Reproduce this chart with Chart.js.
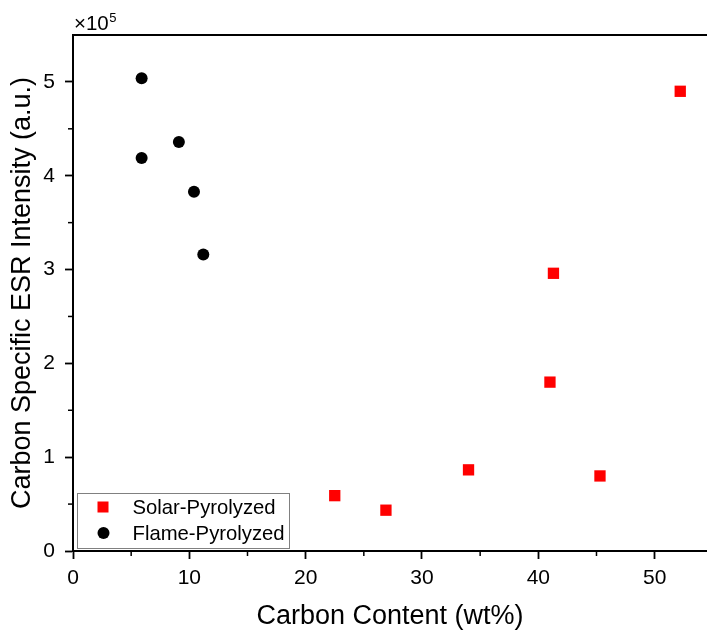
<!DOCTYPE html>
<html>
<head>
<meta charset="utf-8">
<script src="https://cdn.jsdelivr.net/npm/chart.js@4.4.1/dist/chart.umd.min.js"></script>
<style>
  html, body { margin: 0; padding: 0; background: #fff; overflow: hidden; }
  #wrap { width: 707px; height: 633px; }
  canvas { display: block; }
</style>
</head>
<body>
<div id="wrap"><canvas id="esrChart"></canvas></div>
<script>
// Carbon content (wt%) and ESR intensity (a.u.)
const solarCarbon = [22.5, 26.9, 34.0, 41.0, 41.3, 45.3, 52.2];
const solarEsr = [59000, 43500, 86500, 180000, 296000, 80000, 490000];
const flameCarbon = [5.9, 5.9, 9.1, 10.4, 11.2];
const flameEsr = [504000, 419000, 436000, 383000, 316000];

const xTicks = [0, 10, 20, 30, 40, 50];
const yTicks = [0, 100000, 200000, 300000, 400000, 500000];

const FONT = "'Liberation Sans', Arial, sans-serif";

function toPoints(xs, ys) {
  return xs.map((x, i) => ({ x: x, y: ys[i] }));
}

// minor ticks, top frame line, x10^5 label, legend
const extras = {
  id: 'extras',
  afterDraw(chart) {
    const ctx = chart.ctx;
    const xs = chart.scales.x;
    const ys = chart.scales.y;
    const area = chart.chartArea;
    ctx.save();
    ctx.strokeStyle = '#000';
    ctx.lineWidth = 2;
    // top line
    ctx.beginPath();
    ctx.moveTo(area.left - 1, area.top);
    ctx.lineTo(chart.width, area.top);
    ctx.stroke();
    // minor ticks
    ctx.lineWidth = 1.5;
    for (let v = 5; v < xs.max; v += 10) {
      const px = xs.getPixelForValue(v);
      ctx.beginPath();
      ctx.moveTo(px, area.bottom);
      ctx.lineTo(px, area.bottom + 5);
      ctx.stroke();
    }
    for (let v = 50000; v < ys.max; v += 100000) {
      const py = ys.getPixelForValue(v);
      ctx.beginPath();
      ctx.moveTo(area.left, py);
      ctx.lineTo(area.left - 5, py);
      ctx.stroke();
    }
    // x10^5
    ctx.fillStyle = '#000';
    ctx.textBaseline = 'alphabetic';
    ctx.textAlign = 'left';
    ctx.font = '20.5px ' + FONT;
    ctx.fillText('\u00d710', 74, 30);
    const w = ctx.measureText('\u00d710').width;
    ctx.font = '13px ' + FONT;
    ctx.fillText('5', 74 + w + 0.5, 22);

    // legend
    const lx = 77, ly = 493, lw = 212, lh = 55;
    ctx.strokeStyle = '#808080';
    ctx.lineWidth = 1;
    ctx.strokeRect(lx + 0.5, ly + 0.5, lw, lh);
    ctx.font = '20.3px ' + FONT;
    ctx.textBaseline = 'middle';
    chart.data.datasets.forEach((ds, i) => {
      const cy = 507 + i * 26;
      ctx.fillStyle = ds.backgroundColor;
      if (ds.pointStyle === 'rect') {
        ctx.fillRect(97.5, cy - 5.5, 11, 11);
      } else {
        ctx.beginPath();
        ctx.arc(103.5, cy, 6, 0, Math.PI * 2);
        ctx.fill();
      }
      ctx.fillStyle = '#000';
      ctx.fillText(ds.label, 132.5, cy + 1);
    });
    ctx.restore();
  }
};

new Chart(document.getElementById('esrChart'), {
  type: 'scatter',
  data: {
    datasets: [
      {
        label: 'Solar-Pyrolyzed',
        data: toPoints(solarCarbon, solarEsr),
        pointStyle: 'rect',
        backgroundColor: '#ff0000',
        borderColor: '#ff0000',
        borderWidth: 0,
        pointRadius: 8,
        pointHoverRadius: 8
      },
      {
        label: 'Flame-Pyrolyzed',
        data: toPoints(flameCarbon, flameEsr),
        pointStyle: 'circle',
        backgroundColor: '#000000',
        borderColor: '#000000',
        borderWidth: 0,
        pointRadius: 6,
        pointHoverRadius: 6
      }
    ]
  },
  options: {
    responsive: true,
    maintainAspectRatio: false,
    animation: false,
    layout: { autoPadding: false, padding: { top: 35, left: 0, right: 0, bottom: 0 } },
    plugins: {
      legend: { display: false },
      tooltip: { enabled: false }
    },
    scales: {
      x: {
        type: 'linear',
        min: 0,
        max: 54.5,
        afterFit: (s) => { s.height = 82; s.paddingRight = 0; s.paddingLeft = 0; },
        border: { display: true, color: '#000', width: 2 },
        grid: { drawOnChartArea: false, drawTicks: true, tickLength: 8, tickWidth: 1.8, tickColor: '#000' },
        afterBuildTicks: (s) => { s.ticks = xTicks.map(v => ({ value: v })); },
        ticks: {
          includeBounds: false,
          color: '#000',
          padding: 7,
          maxRotation: 0,
          font: { family: FONT, size: 21 }
        },
        title: {
          display: true,
          text: 'Carbon Content (wt%)',
          color: '#000',
          padding: { top: 4, bottom: 0 },
          font: { family: FONT, size: 27 }
        }
      },
      y: {
        type: 'linear',
        min: 0,
        max: 550000,
        afterFit: (s) => { s.width = 73; s.paddingTop = 0; s.paddingBottom = 0; },
        border: { display: true, color: '#000', width: 2 },
        grid: { drawOnChartArea: false, drawTicks: true, tickLength: 8, tickWidth: 1.8, tickColor: '#000' },
        afterBuildTicks: (s) => { s.ticks = yTicks.map(v => ({ value: v })); },
        ticks: {
          includeBounds: false,
          color: '#000',
          padding: 10,
          font: { family: FONT, size: 21 },
          callback: (v) => String(v / 100000)
        },
        title: {
          display: true,
          text: 'Carbon Specific ESR Intensity (a.u.)',
          color: '#000',
          padding: { top: 6, bottom: 0 },
          font: { family: FONT, size: 27 }
        }
      }
    }
  },
  plugins: [extras]
});
</script>
</body>
</html>
